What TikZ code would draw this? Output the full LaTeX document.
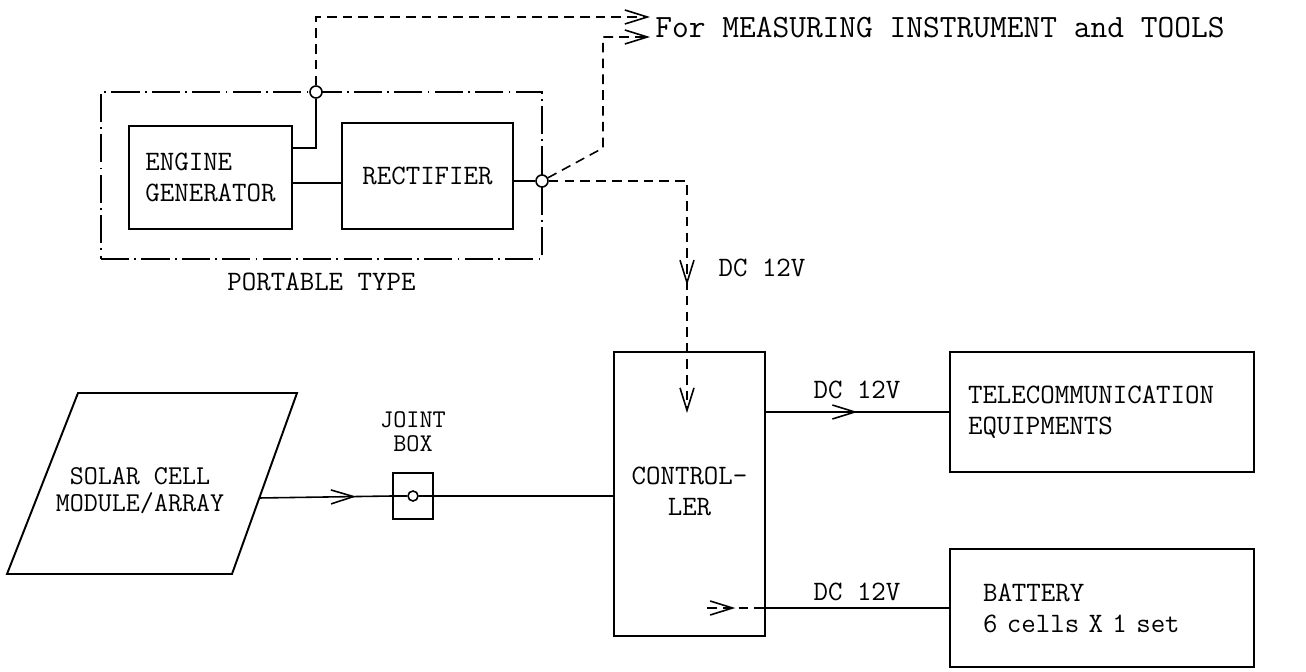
\documentclass[tikz,border=0pt]{standalone}
\usepackage{fontspec}
\usetikzlibrary{arrows.meta,positioning,calc,decorations.markings}

\begin{document}
\begin{tikzpicture}[x=0.02cm,y=-0.02cm,
    font=\ttfamily\fontsize{16}{17.6}\selectfont,
    caja/.style={draw,line width=1.1pt,inner sep=0pt,align=center},
    cable/.style={line width=0.9pt},
    trazos/.style={cable,dash pattern=on 5.5pt off 3.5pt},
    rayapunto/.style={draw,line width=1pt,dash pattern=on 16pt off 3pt on 1pt off 3pt},
    flecha/.style={-{Straight Barb[length=4.5mm,width=2.8mm]}},
    flechamedia/.style={postaction={decorate},decoration={markings,
        mark=at position #1 with {\arrow{Straight Barb[length=4.5mm,width=2.8mm]}}}},
    nudo/.style={circle,draw,fill=white,line width=0.9pt,inner sep=0pt,minimum size=0.24cm},
    etiqueta/.style={inner sep=0pt,align=center}]
    \fill[white] (0,0) rectangle (1306,672);
    % portable group
    \node[rayapunto,minimum width=8.82cm,minimum height=3.34cm] (portatil) at (321.5,175.5) {};
    \node[etiqueta,below=0.25cm of portatil] (tipo) {PORTABLE TYPE};
    \node[caja,minimum width=3.26cm,minimum height=2.06cm,align=left] (generador) at (210.5,177.5) {ENGINE\\GENERATOR};
    \node[caja,minimum width=3.42cm,minimum height=2.12cm] (rectificador) at (427.5,176) {RECTIFIER};
    \node[nudo] (nudoa) at (316,92) {};
    \node[nudo] (nudob) at (542,181) {};
    \node[etiqueta,anchor=west,font=\ttfamily\fontsize{18.5}{20}\selectfont] (herramientas) at (655,28) {For MEASURING INSTRUMENT and TOOLS};
    \coordinate (herramientasa) at (650,17);
    \coordinate (herramientasb) at (650,37);
    \coordinate (quiebre) at (603,148);
    \coordinate (ga) at ($(generador.north east)!0.22!(generador.south east)$);
    \coordinate (gb) at ($(generador.north east)!0.55!(generador.south east)$);
    \draw[cable] (ga) -| (nudoa);
    \draw[cable] (gb) -- (gb -| rectificador.west);
    \draw[cable] (rectificador.east |- nudob) -- (nudob);
    \draw[trazos,flecha] (nudoa) |- (herramientasa);
    \draw[trazos,flecha] (nudob) -- (quiebre) |- (herramientasb);
    % solar side
    \draw[line width=1.1pt] (78,393) -- (297,393) -- (232,574) -- (7,574) -- cycle;
    \node[etiqueta,font=\ttfamily\fontsize{15.5}{15.5}\selectfont] (solar) at (140,491) {SOLAR CELL\\MODULE/ARRAY};
    \coordinate (salida) at (259,498);
    \node[caja,minimum width=0.8cm,minimum height=0.92cm] (union) at (413,496) {};
    \node[nudo,minimum size=0.2cm] (punto) at (union) {};
    \node[etiqueta,above=0.4cm of union,font=\ttfamily\fontsize{14.5}{13.5}\selectfont] (rotulo) {JOINT\\BOX};
    \node[caja,minimum width=3.02cm,minimum height=5.68cm] (controlador) at (689.5,494) {CONTROL-\\LER\vphantom{g}};
    \node[caja,minimum width=6.08cm,minimum height=2.4cm,text width=5.36cm,align=left] (equipos) at (1102,412) {TELECOMMUNICATION\\EQUIPMENTS};
    \node[caja,minimum width=6.08cm,minimum height=2.36cm,text width=4.76cm,align=left] (bateria) at (1102,608) {BATTERY\\6 cells X 1 set};
    \draw[cable,flechamedia=0.73] (salida) -- (union.west);
    \draw[cable] (union.west) -- (punto.west);
    \draw[cable] (punto.east) -- (union.east) -- (controlador.west |- union);
    \coordinate (entrada) at (687,413);
    \draw[trazos,flecha,flechamedia=0.655] (nudob) -| (entrada);
    \draw[cable,flechamedia=0.5] (controlador.east |- equipos) -- (equipos.west);
    \coordinate (retorno) at (707,608);
    \draw[trazos,flechamedia=0.48] (retorno) -- (controlador.east |- bateria);
    \draw[cable] (controlador.east |- bateria) -- (bateria.west);
    \node[etiqueta] (dca) at (762,268) {DC 12V};
    \node[etiqueta] (dcb) at (857,390) {DC 12V};
    \node[etiqueta] (dcc) at (857,592) {DC 12V};
  \end{tikzpicture}
\end{document}
